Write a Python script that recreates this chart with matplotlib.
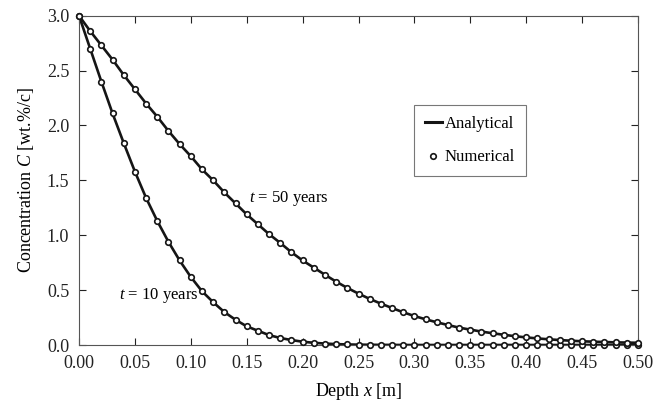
import numpy as np
import matplotlib
matplotlib.use("Agg")
import matplotlib.pyplot as plt
from matplotlib.lines import Line2D

plt.rcParams['font.family'] = ['Liberation Serif', 'DejaVu Serif']
plt.rcParams['mathtext.fontset'] = 'custom'
plt.rcParams['mathtext.it'] = 'Liberation Serif:italic'
plt.rcParams['mathtext.rm'] = 'Liberation Serif'

depth = np.linspace(0.0, 0.5, 51)

conc_10y = [3.00, 2.70, 2.40, 2.11, 1.84, 1.58, 1.34, 1.13, 0.94, 0.77,
            0.62, 0.49, 0.39, 0.30, 0.23, 0.17, 0.13, 0.09, 0.064, 0.045,
            0.030, 0.020, 0.013, 0.008, 0.005, 0.003, 0.002, 0.001, 0.001, 0.0,
            0.0, 0.0, 0.0, 0.0, 0.0, 0.0, 0.0, 0.0, 0.0, 0.0,
            0.0, 0.0, 0.0, 0.0, 0.0, 0.0, 0.0, 0.0, 0.0, 0.0,
            0.0]

conc_50y = [3.00, 2.86, 2.73, 2.60, 2.46, 2.33, 2.20, 2.08, 1.95, 1.83,
            1.72, 1.60, 1.50, 1.39, 1.29, 1.19, 1.10, 1.01, 0.93, 0.845,
            0.77, 0.705, 0.64, 0.577, 0.52, 0.468, 0.42, 0.377, 0.337, 0.298,
            0.264, 0.234, 0.207, 0.182, 0.158, 0.140, 0.122, 0.107, 0.093, 0.080,
            0.069, 0.060, 0.052, 0.045, 0.039, 0.034, 0.030, 0.027, 0.024, 0.022,
            0.020]

xticks = [0.00, 0.05, 0.10, 0.15, 0.20, 0.25, 0.30, 0.35, 0.40, 0.45, 0.50]
yticks = [0.0, 0.5, 1.0, 1.5, 2.0, 2.5, 3.0]

fig = plt.figure(figsize=(6.66, 4.01), dpi=100)
ax = fig.add_axes([79/666, 1-345/401, (638-79)/666, (345-15.7)/401])

for c in (conc_10y, conc_50y):
    ax.plot(depth, c, color='#151515', lw=1.9, zorder=2)
    ax.plot(depth, c, linestyle='none', marker='o', ms=4.0, mfc='white',
            mec='#151515', mew=1.2, zorder=3, clip_on=False)

ax.set_xlim(0, 0.5)
ax.set_ylim(0, 3.0)
ax.set_xticks(xticks)
ax.set_yticks(yticks)
ax.set_xticklabels([f"{v:.2f}" for v in xticks])
ax.set_yticklabels([f"{v:.1f}" for v in yticks])
ax.tick_params(direction='in', top=True, right=True, length=5, width=0.8,
               labelsize=13, pad=7, colors='#222222')
for s in ax.spines.values():
    s.set_linewidth(0.8)
    s.set_color('#555555')

ax.set_xlabel(r'Depth $x$ [m]', fontsize=13, labelpad=7)
ax.set_ylabel(r'Concentration $C$ [wt.%/c]', fontsize=13, labelpad=8)

ax.text(0.1525, 1.335, r'$t$ = 50 years', fontsize=12, ha='left', va='center')
ax.text(0.0355, 0.455, r'$t$ = 10 years', fontsize=12, ha='left', va='center')

handles = [Line2D([], [], color='#151515', lw=2.2),
           Line2D([], [], linestyle='none', marker='o', ms=4.0, mfc='white',
                  mec='#151515', mew=1.2)]
leg = ax.legend(handles, ['Analytical', 'Numerical'], loc='upper left',
                bbox_to_anchor=((414-79)/559, 1-(105-15.7)/329.3),
                fontsize=12, frameon=True, fancybox=False, edgecolor='#555555',
                handlelength=1.0, handletextpad=0.2, labelspacing=1.05,
                borderpad=0.65, borderaxespad=0)
leg.get_frame().set_linewidth(0.8)

fig.savefig('out.png', dpi=100)
